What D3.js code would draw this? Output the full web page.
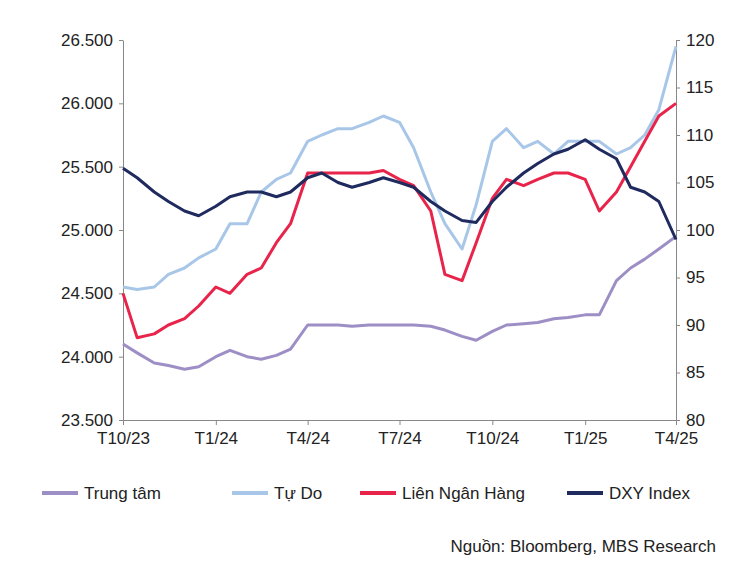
<!DOCTYPE html>
<html>
<head>
<meta charset="utf-8">
<script src="https://cdn.jsdelivr.net/npm/d3@7"></script>
<style>
  body { margin: 0; background: #fff; }
  text { font-family: "Liberation Sans", Arial, sans-serif; }
</style>
</head>
<body>
<svg id="chart" width="750" height="563"></svg>
<script>
// semi-monthly points, Oct 2023 .. Apr 2025
var dates = [];
for (var m = 0; m < 18; m++) {
  dates.push(new Date(2023, 9 + m, 1));
  dates.push(new Date(2023, 9 + m, 15));
}
dates.push(new Date(2025, 3, 1));

var trungTam = [24100,24030,23950,23930,23900,23920,24000,24050,24000,23980,24010,24060,24250,24250,24250,24240,24250,24250,24250,24250,24240,24210,24160,24130,24200,24250,24260,24270,24300,24310,24330,24330,24600,24700,24770,24850,24950];
var tuDo = [24550,24530,24550,24650,24700,24780,24850,25050,25050,25300,25400,25450,25700,25750,25800,25800,25850,25900,25850,25650,25300,25050,24850,25200,25700,25800,25650,25700,25600,25700,25700,25700,25600,25650,25750,25950,26450];
var lienNH = [24500,24150,24180,24250,24300,24400,24550,24500,24650,24700,24900,25050,25450,25450,25450,25450,25450,25470,25400,25350,25150,24650,24600,24900,25250,25400,25350,25400,25450,25450,25400,25150,25300,25500,25700,25900,26000];
var dxy = [106.5,105.5,104,103,102,101.5,102.5,103.5,104,104,103.5,104,105.5,106,105,104.5,105,105.5,105,104.5,103,102,101,100.8,103,104.5,106,107,108,108.5,109.5,108.5,107.5,104.5,104,103,99];

var xTicks = [new Date(2023,9,1), new Date(2024,0,1), new Date(2024,3,1), new Date(2024,6,1), new Date(2024,9,1), new Date(2025,0,1), new Date(2025,3,1)];
var xLabels = ['T10/23','T1/24','T4/24','T7/24','T10/24','T1/25','T4/25'];

var svg = d3.select('#chart');
var mLeft = 123, mRight = 676, mTop = 40, mBottom = 420;

var x = d3.scaleTime().domain([xTicks[0], xTicks[6]]).range([mLeft, mRight]);
var yL = d3.scaleLinear().domain([23500, 26500]).range([mBottom, mTop]);
var yR = d3.scaleLinear().domain([80, 120]).range([mBottom, mTop]);

var fmt = function (d) { return d3.format(',')(d).replace(',', '.'); };
var styleAxis = function (g) {
  g.selectAll('text').attr('font-size', 17).attr('fill', '#222');
  g.selectAll('line,path').attr('stroke', '#888');
};

svg.append('g').attr('transform', 'translate(' + mLeft + ',0)')
  .call(d3.axisLeft(yL).tickValues(d3.range(23500, 26501, 500)).tickFormat(fmt).tickSize(4).tickPadding(6).tickSizeOuter(0))
  .call(styleAxis);

svg.append('g').attr('transform', 'translate(' + mRight + ',0)')
  .call(d3.axisRight(yR).tickValues(d3.range(80, 121, 5)).tickSize(4).tickPadding(6).tickSizeOuter(0))
  .call(styleAxis);

svg.append('g').attr('transform', 'translate(0,' + mBottom + ')')
  .call(d3.axisBottom(x).tickValues(xTicks).tickFormat(function (d, i) { return xLabels[i]; }).tickSize(5).tickPadding(7).tickSizeOuter(0))
  .call(styleAxis);

var series = [
  { name: 'Trung tâm', data: trungTam, color: '#9d8fc6', y: yL },
  { name: 'Tự Do', data: tuDo, color: '#a8c7e8', y: yL },
  { name: 'Liên Ngân Hàng', data: lienNH, color: '#e8244b', y: yL },
  { name: 'DXY Index', data: dxy, color: '#1f2a5e', y: yR }
];

series.forEach(function (s) {
  var line = d3.line().x(function (d, i) { return x(dates[i]); }).y(function (d) { return s.y(d); });
  svg.append('path').datum(s.data).attr('d', line)
    .attr('fill', 'none').attr('stroke', s.color).attr('stroke-width', 3).attr('stroke-linejoin', 'round');
});

// legend
var legX = [42, 232, 360, 567];
series.forEach(function (s, i) {
  var g = svg.append('g').attr('transform', 'translate(' + legX[i] + ',493)');
  g.append('line').attr('x1', 0).attr('x2', 36).attr('stroke', s.color).attr('stroke-width', 4);
  g.append('text').attr('x', 42).attr('y', 6).attr('font-size', 17).attr('fill', '#222').text(s.name);
});

svg.append('text').attr('x', 716).attr('y', 552).attr('text-anchor', 'end')
  .attr('font-size', 17).attr('fill', '#222').text('Nguồn: Bloomberg, MBS Research');
</script>
</body>
</html>
